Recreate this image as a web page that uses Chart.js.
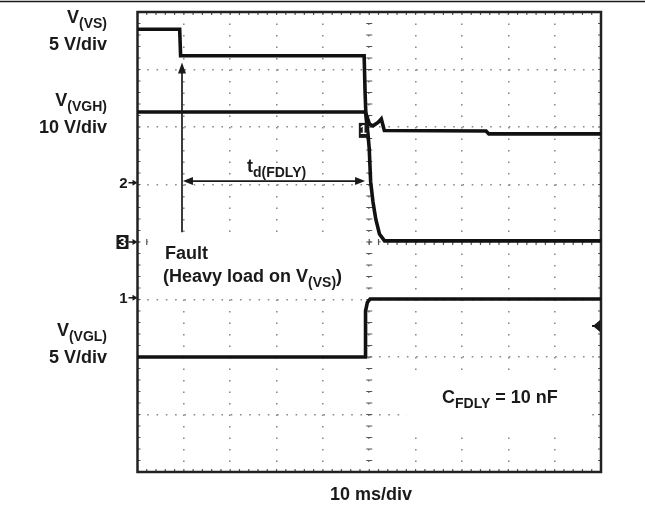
<!DOCTYPE html>
<html>
<head>
<meta charset="utf-8">
<script src="https://cdn.jsdelivr.net/npm/chart.js@4.4.0/dist/chart.umd.min.js"></script>
<style>
  body { margin: 0; background: #fff; }
  canvas { display: block; }
</style>
</head>
<body>
<canvas id="scope" width="645" height="508"></canvas>
<script>
// Time axis in ms (10 ms/div), vertical axis in screen divisions
const xTicks = [-50, -40, -30, -20, -10, 0, 10, 20, 30, 40, 50];
const yTicks = [-4, -3, -2, -1, 0, 1, 2, 3, 4];

// Traces
const vsTime = [-50, -40.9, -40.7, -1.1, -0.9, -0.7, -0.3, 0.0, 0.3, 0.8, 1.4, 2.2, 3.3, 50];
const vsDiv = [3.70, 3.70, 3.24, 3.24, 2.60, 2.17, 1.90, 1.62, 1.05, 0.70, 0.40, 0.14, 0.02, 0.02];

const vghTime = [-50, -1.1, -0.7, 0.05, 0.8, 1.9, 2.6, 3.25, 25.2, 25.8, 50];
const vghDiv = [2.26, 2.26, 2.23, 2.05, 2.02, 2.08, 2.14, 1.94, 1.93, 1.88, 1.88];

const vglTime = [-50, -0.9, -0.8, -0.4, 0.2, 50];
const vglDiv = [-2.0, -2.0, -1.2, -1.05, -0.99, -0.99];

// Channel ground markers on the left edge (divisions)
const chanMarkers = [["2", 1.03, false], ["3", 0.0, true], ["1", -0.97, false]];

// Annotations (data units)
const faultArrow = { x: -40.4, y0: 0.17, y1: 3.12 };
const delayArrow = { y: 1.06, x0: -40.2, x1: -0.9 };
const clearBoxes = [[-47.7, -1.6, 0.17, -0.92], [8.1, 47.6, -2.31, -3.27]];
const trigLevel = -1.46;

const FONT = '"Liberation Sans", Arial, sans-serif';

function toPts(xs, ys) {
  return xs.map((t, i) => ({ x: t, y: ys[i] }));
}

// text with subscripts: parts = [[text, isSub], ...]
function label(ctx, x, y, parts, align) {
  const fontOf = s => s ? "bold 14px " + FONT : "bold 18px " + FONT;
  let w = 0;
  for (const [t, s] of parts) { ctx.font = fontOf(s); w += ctx.measureText(t).width; }
  let cx = align === "right" ? x - w : align === "center" ? x - w / 2 : x;
  ctx.textAlign = "left";
  ctx.textBaseline = "alphabetic";
  for (const [t, s] of parts) {
    ctx.font = fontOf(s);
    ctx.fillText(t, cx, s ? y + 5 : y);
    cx += ctx.measureText(t).width;
  }
}

function arrowHead(ctx, x, y, dx, dy, len, half) {
  ctx.beginPath();
  ctx.moveTo(x, y);
  ctx.lineTo(x - dx * len - dy * half, y - dy * len + dx * half);
  ctx.lineTo(x - dx * len + dy * half, y - dy * len - dx * half);
  ctx.closePath();
  ctx.fill();
}

const scopePlugin = {
  id: "scope",
  beforeDatasetsDraw(chart) {
    const { ctx, chartArea: a, scales: { x, y } } = chart;
    ctx.save();
    const cy = y.getPixelForValue(0), cx = x.getPixelForValue(0);
    // centre cross ticks
    ctx.strokeStyle = "#555";
    ctx.lineWidth = 1.2;
    ctx.beginPath();
    for (let i = -25; i <= 25; i++) {
      const px = x.getPixelForValue(i * 2);
      ctx.moveTo(px, cy - 3); ctx.lineTo(px, cy + 3);
    }
    for (let i = -20; i <= 20; i++) {
      const py = y.getPixelForValue(i / 5);
      ctx.moveTo(cx - 3, py); ctx.lineTo(cx + 3, py);
    }
    ctx.stroke();
    // white boxes behind the notes
    ctx.fillStyle = "#fff";
    for (const b of clearBoxes) {
      const l = x.getPixelForValue(b[0]), r = x.getPixelForValue(b[1]);
      const t = y.getPixelForValue(b[2]), btm = y.getPixelForValue(b[3]);
      ctx.fillRect(l, t, r - l, btm - t);
    }
    // frame ticks
    ctx.beginPath();
    for (let i = -25; i <= 25; i++) {
      const px = x.getPixelForValue(i * 2);
      ctx.moveTo(px, a.top); ctx.lineTo(px, a.top + 3);
      ctx.moveTo(px, a.bottom); ctx.lineTo(px, a.bottom - 3);
    }
    for (let i = -20; i <= 20; i++) {
      const py = y.getPixelForValue(i / 5);
      ctx.moveTo(a.left, py); ctx.lineTo(a.left + 3, py);
      ctx.moveTo(a.right, py); ctx.lineTo(a.right - 3, py);
    }
    ctx.stroke();
    ctx.strokeStyle = "#222";
    ctx.lineWidth = 2.5;
    ctx.strokeRect(a.left, a.top, a.width, a.height);
    ctx.restore();
  },
  afterDatasetsDraw(chart) {
    const { ctx, chartArea: a, scales: { x, y } } = chart;
    ctx.save();
    ctx.fillStyle = "#1a1a1a";
    ctx.strokeStyle = "#1a1a1a";

    // top rule
    ctx.lineWidth = 1.5;
    ctx.beginPath(); ctx.moveTo(0, 1.5); ctx.lineTo(chart.width, 1.5); ctx.stroke();

    // fault arrow (up)
    const fx = x.getPixelForValue(faultArrow.x);
    const fy0 = y.getPixelForValue(faultArrow.y0), fy1 = y.getPixelForValue(faultArrow.y1);
    ctx.lineWidth = 1.7;
    ctx.beginPath(); ctx.moveTo(fx, fy0); ctx.lineTo(fx, fy1 + 8); ctx.stroke();
    arrowHead(ctx, fx, fy1, 0, -1, 11, 4);

    // delay arrow (both ends)
    const dy = y.getPixelForValue(delayArrow.y);
    const dx0 = x.getPixelForValue(delayArrow.x0), dx1 = x.getPixelForValue(delayArrow.x1);
    ctx.beginPath(); ctx.moveTo(dx0 + 6, dy); ctx.lineTo(dx1 - 6, dy); ctx.stroke();
    arrowHead(ctx, dx0, dy, -1, 0, 10, 4);
    arrowHead(ctx, dx1, dy, 1, 0, 10, 4);

    // channel markers
    for (const [n, v, boxed] of chanMarkers) {
      const py = y.getPixelForValue(v);
      ctx.font = "bold 15px " + FONT;
      ctx.textAlign = "right";
      ctx.textBaseline = "middle";
      if (boxed) {
        ctx.fillStyle = "#1a1a1a";
        ctx.fillRect(a.left - 21, py - 7, 12, 14);
        ctx.fillStyle = "#fff";
        ctx.fillText(n, a.left - 11, py + 1);
        ctx.fillStyle = "#1a1a1a";
      } else {
        ctx.fillText(n, a.left - 10, py + 1);
      }
      ctx.lineWidth = 1.5;
      ctx.beginPath(); ctx.moveTo(a.left - 9, py); ctx.lineTo(a.left - 3, py); ctx.stroke();
      arrowHead(ctx, a.left, py, 1, 0, 5, 3);
    }

    // trigger marker on the VGH trace
    const tx = x.getPixelForValue(-1.6), ty = y.getPixelForValue(1.95);
    ctx.fillRect(tx - 3, ty - 7, 9, 15);
    ctx.fillStyle = "#fff";
    ctx.font = "bold 12px " + FONT;
    ctx.textAlign = "center";
    ctx.fillText("1", tx + 1.5, ty + 1);
    ctx.fillStyle = "#1a1a1a";

    // trigger level arrow on the right edge
    const ly = y.getPixelForValue(trigLevel);
    arrowHead(ctx, a.right - 8, ly, -1, 0, 7, 6);
    ctx.lineWidth = 2;
    ctx.beginPath(); ctx.moveTo(a.right - 9, ly); ctx.lineTo(a.right - 1, ly); ctx.stroke();

    // texts
    label(ctx, 107, 23, [["V", false], ["(VS)", true]], "right");
    label(ctx, 107, 50, [["5 V/div", false]], "right");
    label(ctx, 107, 106, [["V", false], ["(VGH)", true]], "right");
    label(ctx, 107, 133, [["10 V/div", false]], "right");
    label(ctx, 107, 336, [["V", false], ["(VGL)", true]], "right");
    label(ctx, 107, 363, [["5 V/div", false]], "right");
    label(ctx, 247, 172, [["t", false], ["d(FDLY)", true]], "left");
    label(ctx, 165, 259, [["Fault", false]], "left");
    label(ctx, 163, 282, [["(Heavy load on V", false], ["(VS)", true], [")", false]], "left");
    label(ctx, 442, 403, [["C", false], ["FDLY", true], [" = 10 nF", false]], "left");
    label(ctx, 371, 500, [["10 ms/div", false]], "center");
    ctx.restore();
  }
};

const traceStyle = {
  borderColor: "#111",
  borderWidth: 3.6,
  pointRadius: 0,
  tension: 0,
  fill: false,
  borderJoinStyle: "miter"
};

new Chart(document.getElementById("scope").getContext("2d"), {
  type: "line",
  data: {
    datasets: [
      { label: "V(VS)", data: toPts(vsTime, vsDiv), ...traceStyle },
      { label: "V(VGH)", data: toPts(vghTime, vghDiv), ...traceStyle },
      { label: "V(VGL)", data: toPts(vglTime, vglDiv), ...traceStyle }
    ]
  },
  options: {
    responsive: false,
    animation: false,
    events: [],
    layout: { padding: { left: 137.5, top: 12, right: 44, bottom: 36 } },
    plugins: { legend: { display: false }, tooltip: { enabled: false } },
    scales: {
      x: {
        type: "linear",
        min: xTicks[0],
        max: xTicks[xTicks.length - 1],
        afterBuildTicks: s => { s.ticks = xTicks.map(v => ({ value: v })); },
        ticks: { display: false },
        grid: {
          drawTicks: false,
          lineWidth: 1.6,
          color: c => (c.tick && (c.tick.value === -50 || c.tick.value === 50)) ? "rgba(0,0,0,0)" : "#8a8a8a"
        },
        border: { display: false, dash: [1.6, 9.9] }
      },
      y: {
        type: "linear",
        min: yTicks[0],
        max: yTicks[yTicks.length - 1],
        afterBuildTicks: s => { s.ticks = yTicks.map(v => ({ value: v })); },
        ticks: { display: false },
        grid: {
          drawTicks: false,
          lineWidth: 1.6,
          color: c => (c.tick && (c.tick.value === -4 || c.tick.value === 4)) ? "rgba(0,0,0,0)" : "#8a8a8a"
        },
        border: { display: false, dash: [1.6, 7.67] }
      }
    }
  },
  plugins: [scopePlugin]
});
</script>
</body>
</html>
